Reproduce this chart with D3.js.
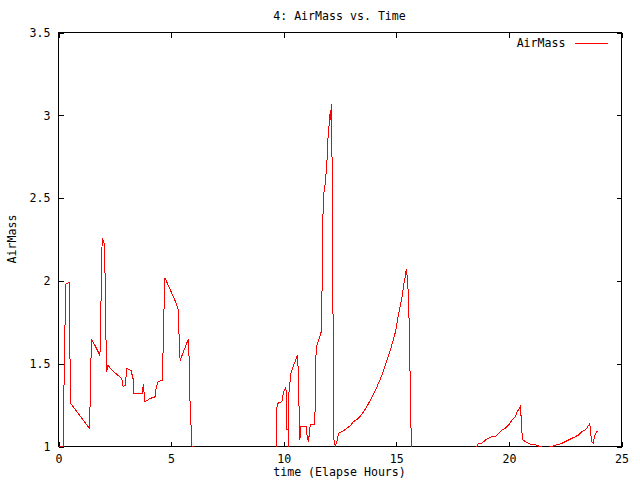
<!DOCTYPE html>
<html>
<head>
<meta charset="utf-8">
<script src="https://cdn.jsdelivr.net/npm/d3@7"></script>
<style>
  body { margin: 0; background: #fff; }
  text { font-family: "DejaVu Sans Mono", monospace; font-size: 11.6px; fill: #000; }
</style>
</head>
<body>
<script>
// elapsed hours (0 = below horizon / out of range)
const hours = [
  0, 0.21, 0.23, 0.29, 0.31, 0.47, 0.50, 0.54, 1.37, 1.40, 1.44, 1.47, 1.84, 1.87, 1.91, 1.94,
  2.02, 2.07, 2.11, 2.13, 2.20, 2.38, 2.81, 2.87, 2.96, 3.04, 3.22, 3.31, 3.33, 3.74, 3.76, 3.84,
  4.07, 4.29, 4.33, 4.42, 4.60, 4.64, 4.69, 4.72, 5.15, 5.31, 5.33, 5.38, 5.40, 5.77, 5.80, 5.84,
  5.89, 5.93, 6.00,
  9.62, 9.67, 9.72, 9.92, 9.99, 10.10, 10.14, 10.21, 10.22, 10.23, 10.32, 10.44, 10.61, 10.66, 10.69,
  10.72, 10.76, 11.00, 11.04, 11.10, 11.18, 11.37, 11.40, 11.44, 11.50, 11.64, 11.68, 11.70, 11.72,
  11.77, 11.83, 11.88, 11.92, 11.96, 12.02, 12.07, 12.10, 12.12, 12.16, 12.20, 12.23, 12.29, 12.38,
  12.44, 12.59, 12.81, 12.99, 13.10, 13.32, 13.55, 13.77, 13.92, 14.14, 14.36, 14.51, 14.73, 14.96,
  15.10, 15.25, 15.36, 15.41, 15.44, 15.48, 15.50, 15.55, 15.59, 15.64, 15.67, 15.72,
  18.40, 18.56, 18.66, 18.81, 18.96, 19.10, 19.25, 19.40, 19.55, 19.70, 19.84, 19.99, 20.14, 20.29,
  20.36, 20.47, 20.52, 20.56, 20.61, 20.73, 20.88, 21.03, 21.18, 21.37, 21.62, 21.88, 21.92, 22.11,
  22.21, 22.36, 22.51, 22.66, 22.81, 22.96, 23.10, 23.25, 23.40, 23.55, 23.59, 23.62, 23.67, 23.74,
  23.80, 23.89, 23.96
];
const airMass = [
  1.0, 1.0, 1.25, 1.74, 1.98, 1.99, 1.63, 1.26, 1.11, 1.24, 1.52, 1.65, 1.55, 1.72, 2.07, 2.26,
  2.23, 2.03, 1.64, 1.45, 1.49, 1.46, 1.41, 1.36, 1.37, 1.47, 1.46, 1.41, 1.32, 1.32, 1.38, 1.27,
  1.29, 1.30, 1.35, 1.39, 1.40, 1.56, 1.86, 2.02, 1.89, 1.83, 1.75, 1.59, 1.52, 1.65, 1.53, 1.27,
  1.11, 1.0, 0,
  0, 1.19, 1.26, 1.27, 1.33, 1.36, 1.10, 1.10, 0, 1.32, 1.44, 1.49, 1.55, 1.42, 1.16,
  1.04, 1.12, 1.12, 1.06, 1.03, 1.13, 1.13, 1.25, 1.60, 1.62, 1.68, 1.70, 1.90, 2.28,
  2.52, 2.57, 2.65, 2.72, 2.85, 2.95, 3.03, 2.97, 3.07, 2.57, 1.54, 1.04, 1.0, 1.04,
  1.08, 1.09, 1.11, 1.13, 1.15, 1.17, 1.21, 1.26, 1.30, 1.36, 1.43, 1.49, 1.58, 1.69,
  1.80, 1.90, 2.00, 2.03, 2.07, 2.03, 2.01, 1.87, 1.61, 1.20, 1.0, 0,
  0.98, 1.0, 1.02, 1.02, 1.04, 1.05, 1.06, 1.06, 1.08, 1.10, 1.11, 1.13, 1.16, 1.18,
  1.21, 1.23, 1.25, 1.11, 1.04, 1.03, 1.02, 1.01, 1.01, 1.0, 0.99, 1.0, 1.0, 1.01,
  1.01, 1.02, 1.03, 1.04, 1.05, 1.06, 1.07, 1.09, 1.10, 1.13, 1.14, 1.10, 1.03, 1.02,
  1.06, 1.09, 1.09
];
const xTicks = [0, 5, 10, 15, 20, 25];
const yTicks = [1, 1.5, 2, 2.5, 3, 3.5];

const width = 640, height = 480;
const margin = { top: 32, right: 19, bottom: 34, left: 58 };
const w = width - margin.left - margin.right;
const h = height - margin.top - margin.bottom;

const svg = d3.select("body").append("svg")
    .attr("width", width)
    .attr("height", height);

const x = d3.scaleLinear().domain([0, 25]).range([0, w]);
const y = d3.scaleLinear().domain([1, 3.5]).range([h, 0]);

const g = svg.append("g").attr("transform", `translate(${margin.left + 0.5},${margin.top + 0.5})`);

g.append("clipPath").attr("id", "clip")
  .append("rect").attr("x", 0).attr("y", 0).attr("width", w).attr("height", h + 0.6);

// axes with inward ticks on all four sides
const tick = 5;
g.append("g").attr("transform", `translate(0,${h})`)
    .call(d3.axisBottom(x).tickValues(xTicks).tickSizeInner(-tick).tickSizeOuter(0).tickPadding(8).tickFormat(d3.format("d")));
g.append("g")
    .call(d3.axisTop(x).tickValues(xTicks).tickSizeInner(-tick).tickSizeOuter(0).tickFormat(""));
g.append("g")
    .call(d3.axisLeft(y).tickValues(yTicks).tickSizeInner(-tick).tickSizeOuter(0).tickPadding(8).tickFormat(d => d));
g.append("g").attr("transform", `translate(${w},0)`)
    .call(d3.axisRight(y).tickValues(yTicks).tickSizeInner(-tick).tickSizeOuter(0).tickFormat(""));

g.selectAll(".domain").remove();
g.selectAll(".tick line").attr("stroke", "#000").attr("shape-rendering", "crispEdges");
g.selectAll(".tick text").style("font-family", "DejaVu Sans Mono, monospace").style("font-size", "11.6px");

g.append("rect")
    .attr("width", w).attr("height", h)
    .attr("fill", "none").attr("stroke", "#000")
    .attr("shape-rendering", "crispEdges");

const pts = hours.map((t, i) => [t, airMass[i]]);
const line = d3.line().x(d => x(d[0])).y(d => y(d[1]));

g.append("path")
    .datum(pts)
    .attr("clip-path", "url(#clip)")
    .attr("fill", "none")
    .attr("stroke", "#ff0000")
    .attr("stroke-width", 1)
    .attr("shape-rendering", "crispEdges")
    .attr("d", line);

// legend
g.append("text")
    .attr("x", 507).attr("y", 11)
    .attr("text-anchor", "end")
    .attr("dominant-baseline", "middle")
    .text("AirMass");
g.append("line")
    .attr("x1", 516).attr("x2", 549)
    .attr("y1", 11).attr("y2", 11)
    .attr("stroke", "#ff0000")
    .attr("shape-rendering", "crispEdges");

// title and axis labels
svg.append("text")
    .attr("x", margin.left + w / 2).attr("y", 16)
    .attr("text-anchor", "middle")
    .attr("dominant-baseline", "middle")
    .text("4: AirMass vs. Time");

svg.append("text")
    .attr("x", margin.left + w / 2).attr("y", 472)
    .attr("text-anchor", "middle")
    .attr("dominant-baseline", "middle")
    .text("time (Elapse Hours)");

svg.append("text")
    .attr("transform", `translate(12,${margin.top + h / 2}) rotate(-90)`)
    .attr("text-anchor", "middle")
    .attr("dominant-baseline", "middle")
    .text("AirMass");
</script>
</body>
</html>
